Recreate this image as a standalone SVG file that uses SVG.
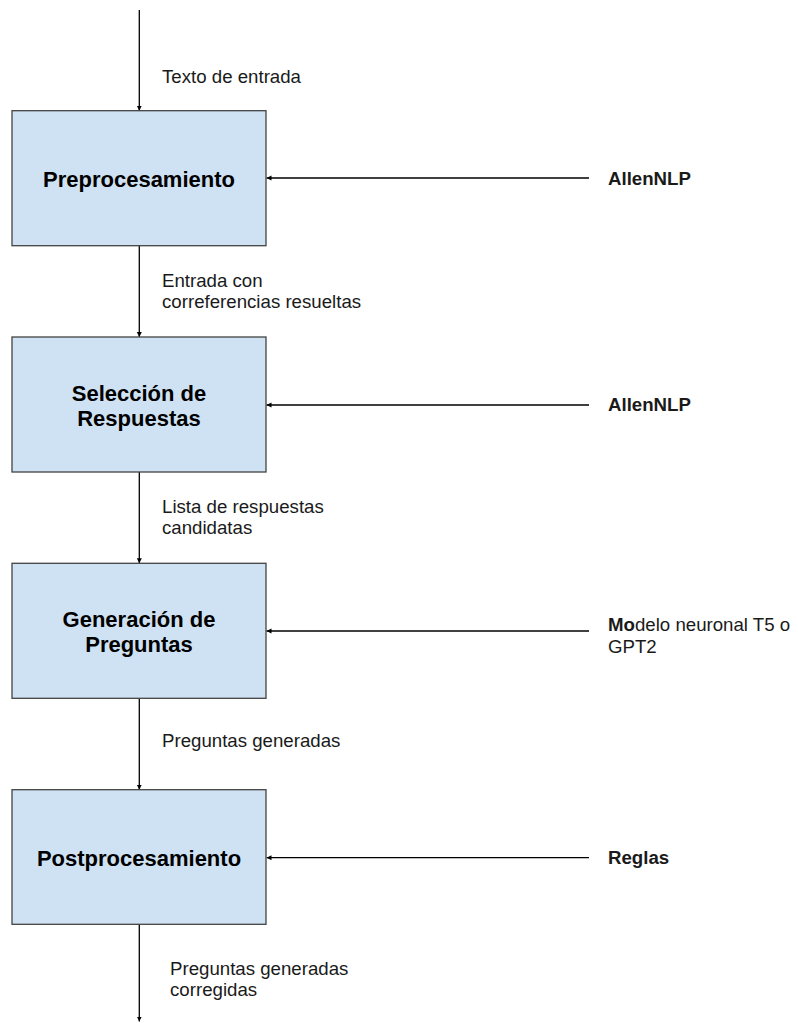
<svg xmlns="http://www.w3.org/2000/svg" width="798" height="1023" viewBox="0 0 798 1023">
<style>
.box{fill:#cfe2f3;stroke:#434343;stroke-width:1.3}
.title{font-family:"Liberation Sans",Arial,sans-serif;font-size:22px;font-weight:bold;fill:#000;text-anchor:middle}
.lbl{font-family:"Liberation Sans",Arial,sans-serif;font-size:18.67px;fill:#1a1a1a}
.b{font-weight:bold}
.edge{stroke:#000;stroke-width:1.3;fill:none;marker-end:url(#ah)}
</style>
<defs>
<marker id="ah" markerUnits="userSpaceOnUse" markerWidth="6" markerHeight="6" refX="5" refY="2.5" orient="auto">
<path d="M0,0 L5,2.5 L0,5 z" fill="#000"/>
</marker>
</defs>
<rect width="798" height="1023" fill="#fff"/>
<g id="connectors">
<line class="edge" x1="139.3" y1="10" x2="139.3" y2="110.7"/>
<line class="edge" x1="139.3" y1="245.7" x2="139.3" y2="337"/>
<line class="edge" x1="139.3" y1="472" x2="139.3" y2="563.3"/>
<line class="edge" x1="139.3" y1="698.3" x2="139.3" y2="789.7"/>
<line class="edge" x1="139.3" y1="924.3" x2="139.3" y2="1021.5"/>
<line class="edge" x1="589" y1="178" x2="266.5" y2="178"/>
<line class="edge" x1="589" y1="405" x2="266.5" y2="405"/>
<line class="edge" x1="589" y1="631" x2="266.5" y2="631"/>
<line class="edge" x1="589" y1="857.7" x2="266.5" y2="857.7"/>
<text class="lbl" x="162" y="82.7">Texto de entrada</text>
<text class="lbl" x="162" y="286.7">Entrada con</text>
<text class="lbl" x="162" y="308.2">correferencias resueltas</text>
<text class="lbl" x="162" y="512.5">Lista de respuestas</text>
<text class="lbl" x="162" y="534">candidatas</text>
<text class="lbl" x="162" y="746.7">Preguntas generadas</text>
<text class="lbl" x="170" y="974.5">Preguntas generadas</text>
<text class="lbl" x="170" y="996">corregidas</text>
</g>
<g id="preprocesamiento">
<rect class="box" x="12" y="110.7" width="254" height="135"/>
<text class="title" x="139" y="187">Preprocesamiento</text>
</g>
<g id="seleccion">
<rect class="box" x="12" y="337" width="254" height="135"/>
<text class="title" x="139" y="400.5">Selección de</text>
<text class="title" x="139" y="425.5">Respuestas</text>
</g>
<g id="generacion">
<rect class="box" x="12" y="563.3" width="254" height="135"/>
<text class="title" x="139" y="626.7">Generación de</text>
<text class="title" x="139" y="651.7">Preguntas</text>
</g>
<g id="postprocesamiento">
<rect class="box" x="12" y="789.7" width="254" height="134.6"/>
<text class="title" x="139" y="866">Postprocesamiento</text>
</g>
<g id="allennlp1">
<text class="lbl b" x="608" y="184.5">AllenNLP</text>
</g>
<g id="allennlp2">
<text class="lbl b" x="608" y="411">AllenNLP</text>
</g>
<g id="modelo">
<text class="lbl" x="608" y="631"><tspan class="b">Mo</tspan>delo neuronal T5 o</text>
<text class="lbl" x="608" y="652.5">GPT2</text>
</g>
<g id="reglas">
<text class="lbl b" x="608" y="864">Reglas</text>
</g>
</svg>
